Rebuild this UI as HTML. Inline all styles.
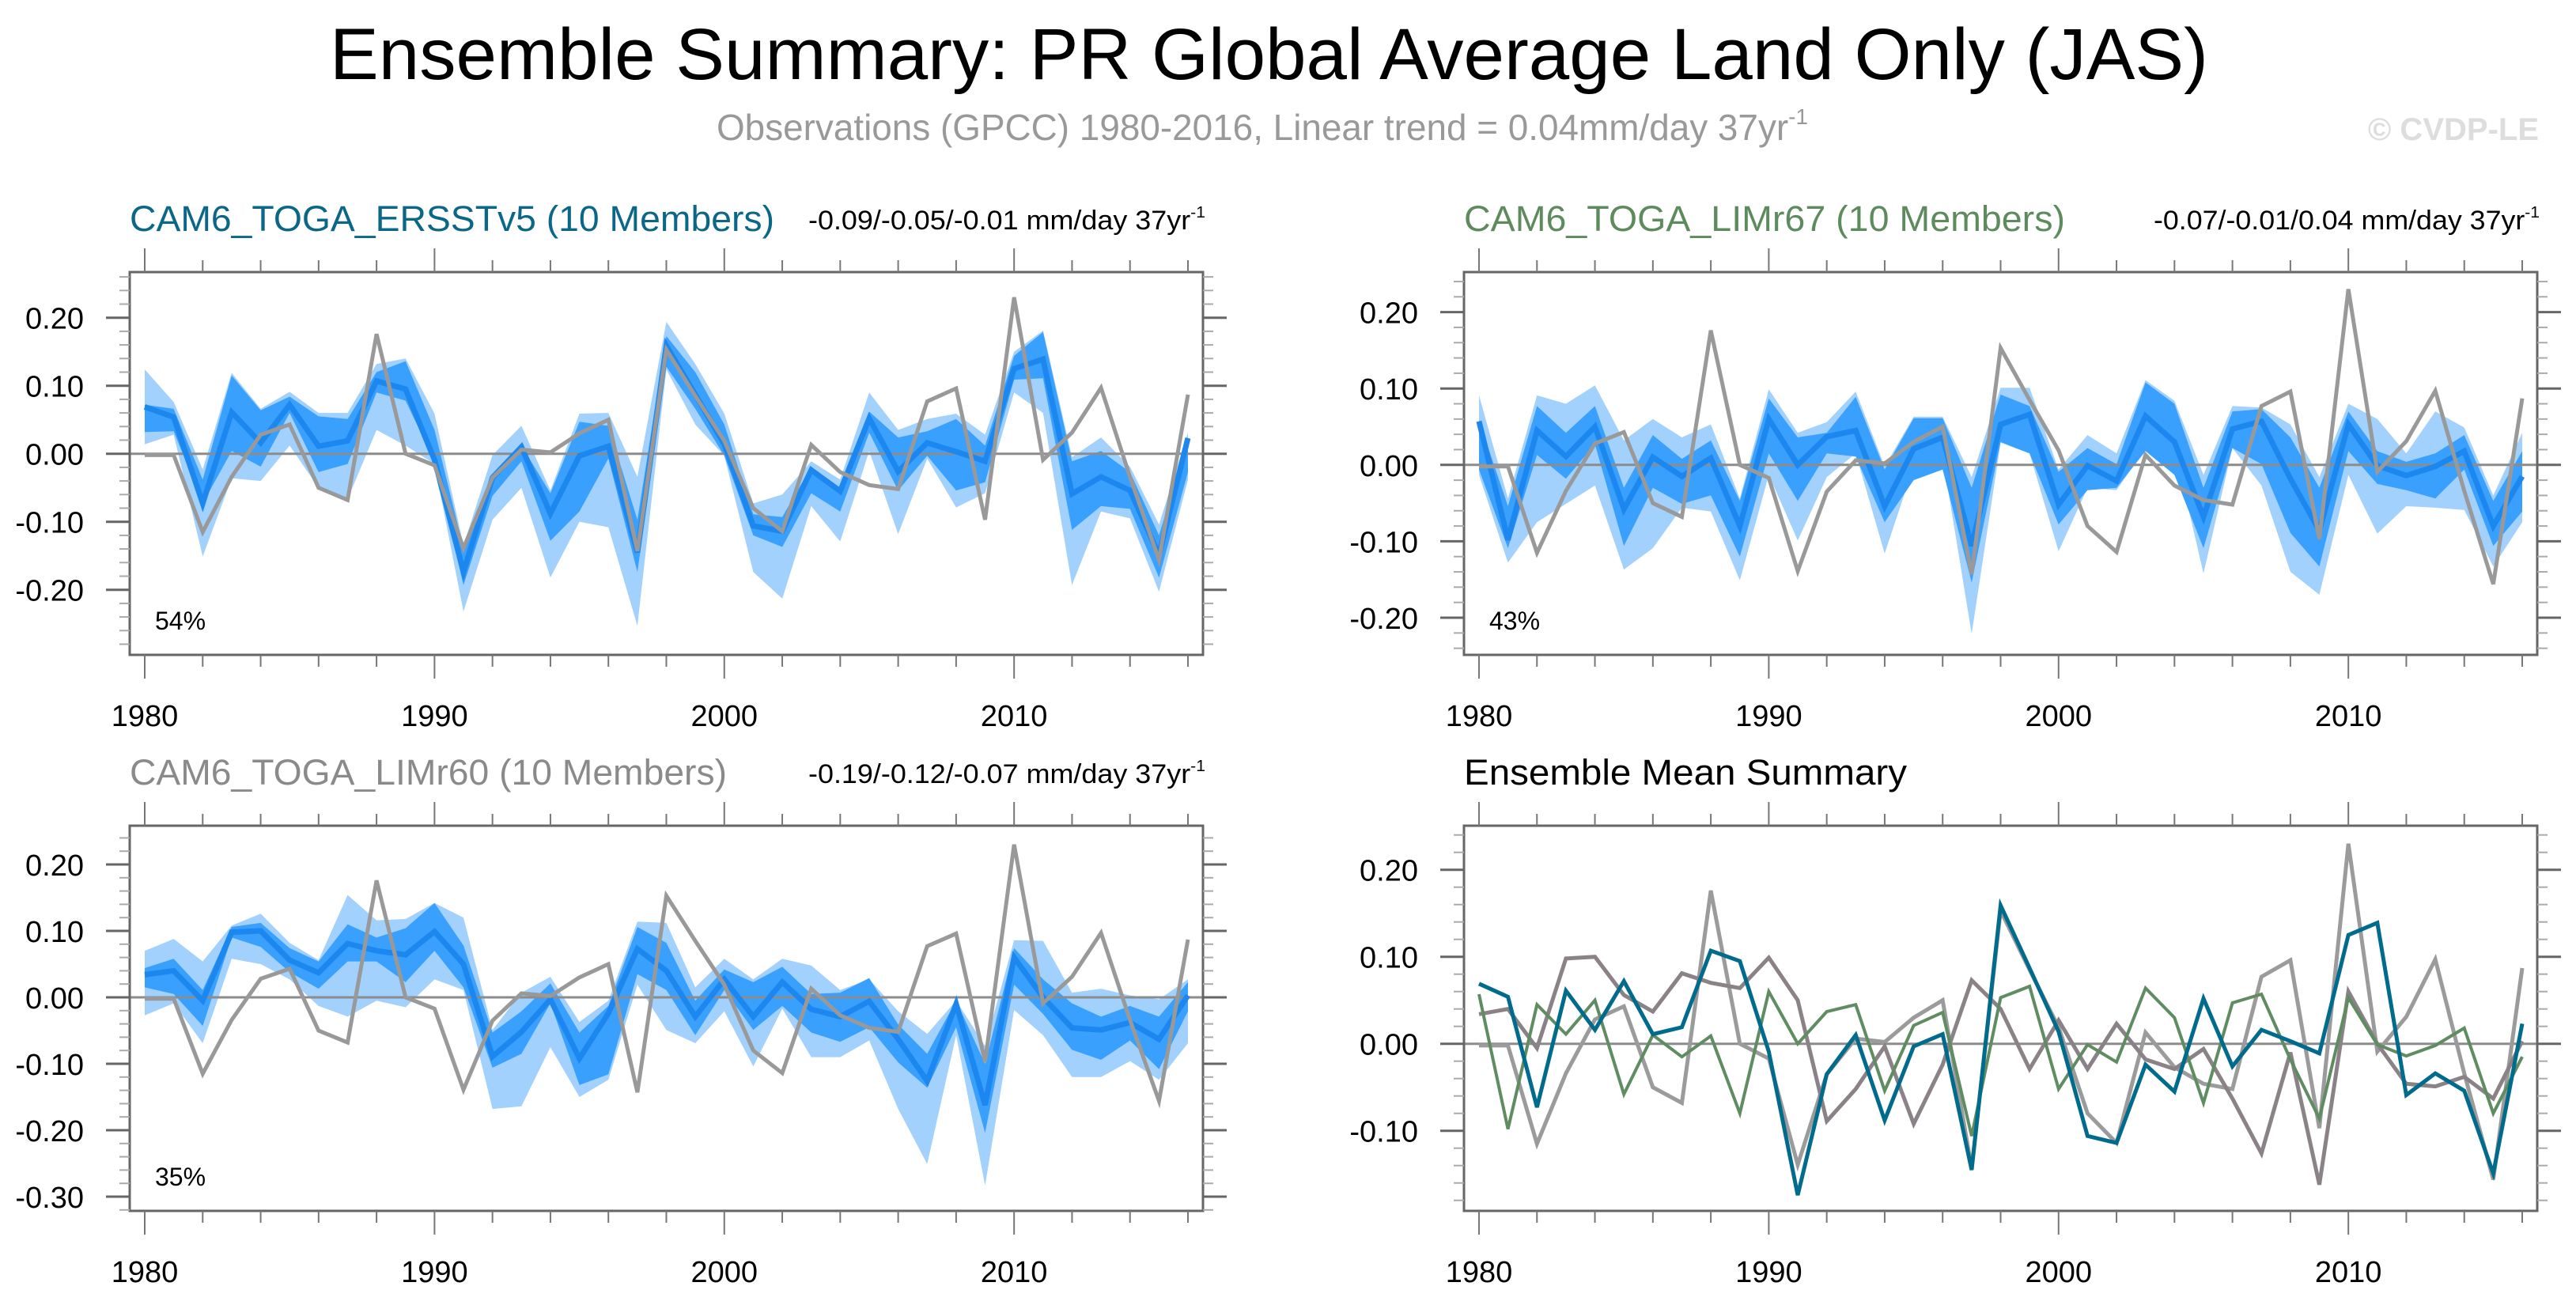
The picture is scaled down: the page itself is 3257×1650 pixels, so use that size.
<!DOCTYPE html>
<html><head><meta charset="utf-8">
<style>
html,body{margin:0;padding:0;background:#fff;}
svg{display:block;font-family:"Liberation Sans",Arial,sans-serif;}
</style></head>
<body>
<svg id="chart" width="3257" height="1650" viewBox="0 0 3257 1650" xmlns="http://www.w3.org/2000/svg">
<text x="417" y="100" font-size="92" textLength="2375" lengthAdjust="spacingAndGlyphs">Ensemble Summary: PR Global Average Land Only (JAS)</text>
<text x="906" y="177" font-size="46" fill="#999" textLength="1380" lengthAdjust="spacingAndGlyphs">Observations (GPCC) 1980-2016, Linear trend = 0.04mm/day 37yr<tspan font-size="28" dy="-20">-1</tspan></text>
<text x="3210" y="177" font-size="40" font-weight="bold" fill="#ddd" text-anchor="end">© CVDP-LE</text>
</svg>
<script>
var years = []; for (var y = 1980; y <= 2016; y++) years.push(y);
var obs = [-0.002,-0.002,-0.115,-0.034,0.028,0.043,-0.05,-0.068,0.176,0.0,-0.017,-0.139,-0.035,0.006,0.002,0.03,0.05,-0.143,0.153,0.085,0.019,-0.08,-0.114,0.013,-0.027,-0.046,-0.052,0.077,0.096,-0.097,0.23,-0.009,0.031,0.097,-0.034,-0.156,0.087];
var meanA = [0.069,0.054,-0.073,0.061,0.016,0.072,0.011,0.019,0.107,0.095,-0.009,-0.174,-0.035,0.01,-0.088,-0.003,0.011,-0.145,0.159,0.087,0.014,-0.106,-0.114,-0.024,-0.055,0.052,-0.026,0.016,0.003,-0.011,0.125,0.139,-0.059,-0.034,-0.054,-0.149,0.023];
var meanB = [0.057,-0.098,0.045,0.011,0.05,-0.058,0.01,-0.015,0.009,-0.08,0.06,0.0,0.037,0.045,-0.054,0.021,0.036,-0.106,0.053,0.066,-0.052,-0.001,-0.021,0.064,0.03,-0.068,0.047,0.057,-0.018,-0.086,0.053,-0.001,-0.014,-0.002,0.018,-0.08,-0.015];
var meanC = [0.034,0.04,-0.005,0.098,0.1,0.056,0.037,0.081,0.07,0.064,0.099,0.05,-0.089,-0.052,-0.003,-0.092,-0.024,0.073,0.04,-0.029,0.027,-0.029,0.023,-0.018,-0.029,-0.006,-0.063,-0.126,-0.01,-0.162,0.06,0.0,-0.046,-0.049,-0.038,-0.063,0.003];
var lightHiA = [0.124,0.076,-0.023,0.119,0.066,0.091,0.06,0.06,0.132,0.14,0.059,-0.135,-0.002,0.041,-0.054,0.059,0.06,-0.034,0.194,0.132,0.059,-0.073,-0.06,-0.011,-0.038,0.09,0.035,0.051,0.059,0.028,0.15,0.181,-0.005,0.024,-0.019,-0.104,0.031];
var lightLoA = [0.014,0.028,-0.151,-0.036,-0.04,0.012,-0.05,-0.067,0.035,0.012,-0.015,-0.232,-0.097,-0.05,-0.182,-0.1,-0.108,-0.253,0.124,0.043,-0.003,-0.174,-0.213,-0.077,-0.129,0.004,-0.118,-0.007,-0.079,-0.058,0.09,0.06,-0.193,-0.085,-0.095,-0.203,-0.038];
var darkHiA = [0.072,0.066,-0.038,0.115,0.064,0.084,0.055,0.051,0.12,0.136,0.035,-0.139,-0.034,0.012,-0.058,0.047,0.041,-0.097,0.173,0.12,0.043,-0.089,-0.093,-0.019,-0.054,0.062,0.024,0.033,0.051,0.012,0.144,0.179,-0.011,0.004,-0.027,-0.12,0.02];
var darkLoA = [0.032,0.033,-0.073,0.004,-0.019,0.06,-0.027,-0.015,0.09,0.078,-0.011,-0.193,-0.062,-0.011,-0.128,-0.085,-0.007,-0.174,0.128,0.066,-0.003,-0.12,-0.137,-0.058,-0.085,0.031,-0.054,-0.003,-0.054,-0.042,0.109,0.111,-0.112,-0.077,-0.081,-0.182,-0.027];
var lightHiB = [0.091,-0.044,0.091,0.08,0.104,0.032,0.06,0.036,0.053,-0.044,0.099,0.042,0.056,0.096,-0.002,0.063,0.063,-0.016,0.101,0.101,-0.006,0.039,0.015,0.111,0.084,-0.013,0.077,0.075,0.053,-0.016,0.08,0.06,0.015,0.07,0.049,-0.04,0.042];
var lightLoB = [-0.013,-0.128,-0.075,-0.051,-0.027,-0.137,-0.109,-0.056,-0.061,-0.151,-0.013,-0.099,-0.016,0.015,-0.116,-0.002,0.011,-0.221,0.029,0.015,-0.113,-0.03,-0.033,0.022,0.022,-0.142,0.022,-0.027,-0.14,-0.17,-0.013,-0.09,-0.054,-0.056,-0.059,-0.133,-0.075];
var darkHiB = [0.058,-0.054,0.077,0.042,0.077,-0.03,0.039,0.008,0.032,-0.047,0.087,0.036,0.042,0.089,-0.006,0.061,0.061,-0.03,0.092,0.077,-0.009,0.022,0.001,0.108,0.08,-0.03,0.07,0.073,0.036,-0.03,0.07,0.018,0.004,0.015,0.039,-0.047,0.018];
var darkLoB = [-0.006,-0.109,0.013,-0.018,0.027,-0.106,-0.03,-0.051,-0.04,-0.12,0.015,-0.047,0.015,0.011,-0.075,-0.02,-0.006,-0.154,0.03,0.015,-0.078,-0.033,-0.03,0.018,-0.013,-0.109,0.022,0.001,-0.089,-0.133,0.018,-0.025,-0.033,-0.044,-0.006,-0.106,-0.061];
var lightHiC = [0.07,0.088,0.054,0.108,0.126,0.082,0.056,0.154,0.116,0.118,0.142,0.12,-0.049,0.007,0.031,-0.037,-0.005,0.114,0.112,0.015,0.058,0.027,0.058,0.048,0.011,0.027,-0.021,-0.055,-0.005,-0.073,0.086,0.085,0.007,0.013,0.003,-0.003,0.027];
var lightLoC = [-0.027,-0.009,-0.069,0.058,0.05,0.027,-0.013,-0.029,-0.005,-0.015,0.027,0.011,-0.168,-0.164,-0.075,-0.15,-0.124,0.019,-0.049,-0.069,-0.021,-0.104,-0.017,-0.09,-0.09,-0.065,-0.168,-0.251,-0.057,-0.283,-0.019,-0.057,-0.12,-0.12,-0.096,-0.124,-0.069];
var darkHiC = [0.044,0.058,0.011,0.106,0.112,0.074,0.054,0.11,0.09,0.104,0.142,0.078,-0.053,-0.021,0.021,-0.053,-0.013,0.106,0.082,-0.005,0.042,0.023,0.046,0.005,0.007,0.029,-0.041,-0.085,-0.005,-0.1,0.074,0.027,-0.009,-0.029,-0.013,-0.029,0.023];
var darkLoC = [0.015,0.005,-0.043,0.09,0.076,0.038,0.013,0.054,0.054,0.023,0.07,0.015,-0.106,-0.085,-0.009,-0.132,-0.116,0.035,0.011,-0.057,0.011,-0.049,-0.013,-0.053,-0.067,-0.045,-0.098,-0.136,-0.045,-0.204,0.019,-0.025,-0.079,-0.094,-0.065,-0.108,-0.021];
var yTicksA = [0.2,0.1,0,-0.1,-0.2];
var yTicksB = [0.2,0.1,0,-0.1,-0.2];
var yTicksC = [0.2,0.1,0,-0.1,-0.2,-0.3];
var yTicksD = [0.2,0.1,0,-0.1];
var xTicks = [1980,1990,2000,2010];

var NS = 'http://www.w3.org/2000/svg';
var svg = document.getElementById('chart');
function mk(tag, attrs, parent) {
  var e = document.createElementNS(NS, tag);
  for (var k in attrs) e.setAttribute(k, attrs[k]);
  (parent || svg).appendChild(e);
  return e;
}
function fmt(v){ return (v<0?'-':'')+Math.abs(v).toFixed(2); }

function panel(p) {
  var g = mk('g', {});
  
  
  var L=p.L, R=p.R, T=p.T, B=p.B;
  var x0 = p.x1980, xs = (p.x2016 - p.x1980)/36;
  function X(yr){ return x0 + (yr-1980)*xs; }
  function Y(v){ return p.y0 - v*p.pxPer; }
  var t = mk('text', {x: L, y: p.titleY, 'font-size': 45, fill: p.titleColor, textLength: p.titleW, lengthAdjust: 'spacingAndGlyphs'}, g);
  t.textContent = p.title;
  
  
  if (p.trend) {
    var tr = mk('text', {x: R+3-p.trendW, y: p.titleY-2, 'font-size': 34, textLength: p.trendW, lengthAdjust: 'spacingAndGlyphs'}, g);
    
    
    tr.appendChild(document.createTextNode(p.trend + ' mm/day 37yr'));
    var sp = mk('tspan', {'font-size': 20, dy: -15}, tr);
    sp.textContent = '-1';
  }
  function band(hi, lo, color, nm) {
    var d = '';
    for (var i=0;i<years.length;i++) d += (i?'L':'M') + X(years[i]).toFixed(1) + ',' + Y(hi[i]).toFixed(1);
    for (var i=years.length-1;i>=0;i--) d += 'L' + X(years[i]).toFixed(1) + ',' + Y(lo[i]).toFixed(1);
    var e = mk('path', {d: d+'Z', fill: color}, g);
    
    
  }
  function line(vals, color, w, nm) {
    var d = '';
    for (var i=0;i<years.length;i++) d += (i?'L':'M') + X(years[i]).toFixed(1) + ',' + Y(vals[i]).toFixed(1);
    var e = mk('path', {d: d, fill: 'none', stroke: color, 'stroke-width': w, 'stroke-linejoin': 'miter'}, g);
    
    
  }
  if (p.lightHi) {
    band(p.lightHi, p.lightLo, '#a1d1fc', 'ensemble-range-band');
    band(p.darkHi, p.darkLo, '#3aa0fe', 'ensemble-10-90-band');
  }
  var z = mk('line', {x1: L, x2: R, y1: Y(0), y2: Y(0), stroke: '#8c8c8c', 'stroke-width': 3}, g);
  
  
  if (p.lightHi) {
    line(p.mean, '#1c88ef', 7, 'ensemble-mean-line');
    line(obs, '#999999', 5, 'observations-line');
  } else {
    line(obs, '#9b9b9b', 5, 'observations-line');
    line(meanC, '#8b8287', 5, 'limr60-mean-line');
    line(meanB, '#5f8c60', 4, 'limr67-mean-line');
    line(meanA, '#006b8c', 5, 'ersstv5-mean-line');
  }
  var fr = mk('rect', {x: L, y: T, width: R-L, height: B-T, fill: 'none', stroke: '#666', 'stroke-width': 3}, g);
  
  
  for (var yr=1980; yr<=2016; yr+=2) {
    var maj = (yr%10===0);
    var len = maj ? 30 : 15;
    mk('line', {x1: X(yr), x2: X(yr), y1: T, y2: T-len, stroke: '#777', 'stroke-width': 2}, g);
    mk('line', {x1: X(yr), x2: X(yr), y1: B, y2: B+len, stroke: '#777', 'stroke-width': 2}, g);
  }
  xTicks.forEach(function(yr){
    var e = mk('text', {x: X(yr), y: B+90, 'font-size': 38, 'text-anchor': 'middle'}, g);
    e.textContent = yr;
    
    
  });
  var vmin = -(B - p.y0)/p.pxPer, vmax = (p.y0 - T)/p.pxPer;
  for (var k=Math.ceil(vmin*50+0.01); k<=Math.floor(vmax*50-0.01); k++) {
    var v = k/50, maj = (k%5===0), len = maj?30:13;
    mk('line', {x1: L, x2: L-len, y1: Y(v), y2: Y(v), stroke: maj?'#666':'#aaa', 'stroke-width': maj?3:2}, g);
    mk('line', {x1: R, x2: R+len, y1: Y(v), y2: Y(v), stroke: maj?'#666':'#aaa', 'stroke-width': maj?3:2}, g);
  }
  p.yTicks.forEach(function(v){
    var e = mk('text', {x: L-58, y: Y(v)+14, 'font-size': 38, 'text-anchor': 'end'}, g);
    e.textContent = fmt(v);
    
    
  });
  if (p.pct) {
    var e = mk('text', {x: L+32, y: B-32, 'font-size': 32}, g);
    e.textContent = p.pct;
    
    
  }
}

panel({name:'panel-ersstv5', L:164, R:1521, T:344, B:828, x1980:183, x2016:1502, y0:573.7, pxPer:860,
  title:'CAM6_TOGA_ERSSTv5 (10 Members)', titleColor:'#0a6788', titleY:292, titleW:815, trend:'-0.09/-0.05/-0.01', trendW:502,
  mean:meanA, lightHi:lightHiA, lightLo:lightLoA, darkHi:darkHiA, darkLo:darkLoA, yTicks:yTicksA, pct:'54%'});
panel({name:'panel-limr67', L:1851, R:3208, T:344, B:828, x1980:1870, x2016:3189, y0:587.8, pxPer:966,
  title:'CAM6_TOGA_LIMr67 (10 Members)', titleColor:'#5e8b5e', titleY:292, titleW:760, trend:'-0.07/-0.01/0.04', trendW:488,
  mean:meanB, lightHi:lightHiB, lightLo:lightLoB, darkHi:darkHiB, darkLo:darkLoB, yTicks:yTicksB, pct:'43%'});
panel({name:'panel-limr60', L:164, R:1521, T:1044, B:1531, x1980:183, x2016:1502, y0:1261, pxPer:840,
  title:'CAM6_TOGA_LIMr60 (10 Members)', titleColor:'#8a8a8a', titleY:992, titleW:755, trend:'-0.19/-0.12/-0.07', trendW:502,
  mean:meanC, lightHi:lightHiC, lightLo:lightLoC, darkHi:darkHiC, darkLo:darkLoC, yTicks:yTicksC, pct:'35%'});
panel({name:'panel-ensemble-mean-summary', L:1851, R:3208, T:1044, B:1531, x1980:1870, x2016:3189, y0:1319.7, pxPer:1100,
  title:'Ensemble Mean Summary', titleColor:'#000', titleY:992, titleW:560, trend:null, yTicks:yTicksD, pct:null});
</script>
</body></html>
